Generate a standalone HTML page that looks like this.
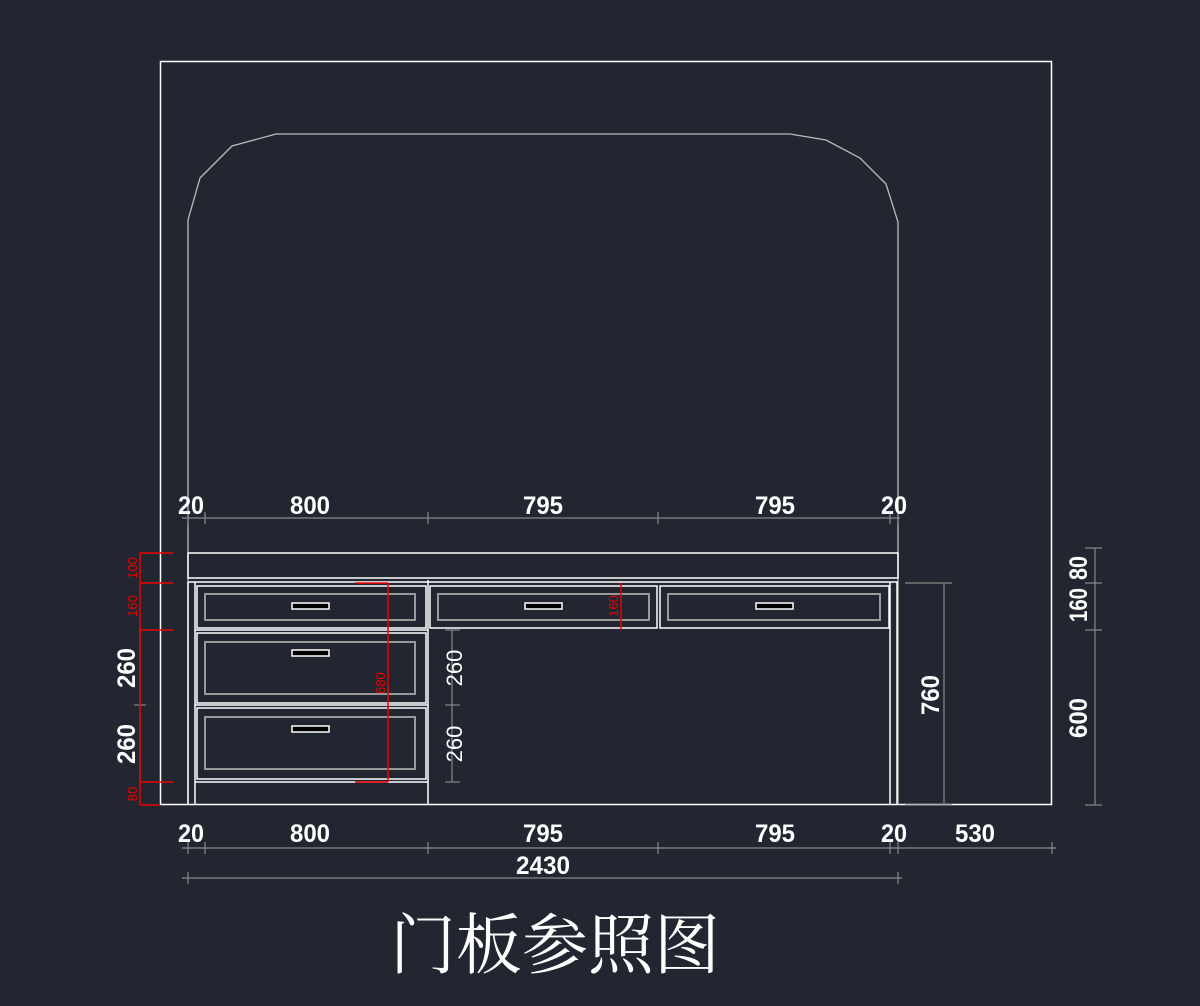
<!DOCTYPE html><html><head><style>body{margin:0;background:#212630}svg{display:block}</style></head><body>
<svg width="1200" height="1006" viewBox="0 0 1200 1006" xmlns="http://www.w3.org/2000/svg" font-family="'Liberation Sans', 'Noto Sans CJK SC', sans-serif">
<rect width="1200" height="1006" fill="#212630"/>
<rect x="160.5" y="61.5" width="891" height="743" fill="none" stroke="#fff" stroke-width="1.5"/>
<polyline points="188,805 188,220 200,178 232,146 276,134 790,134 826,140 860,158 886,184 898,222 898,805" fill="none" stroke="#bbb" stroke-width="1.3"/>
<g stroke="#fff" stroke-width="1.5" fill="none">
<rect x="188" y="553" width="710" height="25"/>
<line x1="188" y1="582" x2="898" y2="582"/>
<line x1="188" y1="582" x2="188" y2="805"/><line x1="195" y1="582" x2="195" y2="805"/>
<line x1="890" y1="582" x2="890" y2="805"/><line x1="897" y1="582" x2="897" y2="805"/>
<line x1="428" y1="580" x2="428" y2="805"/>
<line x1="195" y1="782" x2="428" y2="782"/>
<rect x="197" y="586" width="229" height="42"/><rect x="430" y="586" width="227" height="42"/><rect x="660" y="586" width="229" height="42"/>
<rect x="197" y="633" width="229" height="70"/><rect x="197" y="708" width="229" height="71"/>
<line x1="195" y1="630" x2="428" y2="630"/><line x1="195" y1="705" x2="428" y2="705"/>
</g>
<g stroke="#999" stroke-width="2" fill="none">
<rect x="205" y="594" width="210" height="26"/><rect x="438" y="594" width="211" height="26"/><rect x="668" y="594" width="212" height="26"/>
<rect x="205" y="642" width="210" height="52"/><rect x="205" y="717" width="210" height="52"/>
</g>
<g fill="#000" stroke="#fff" stroke-width="1.5">
<rect x="292" y="603" width="37" height="6"/><rect x="525" y="603" width="37" height="6"/><rect x="756" y="603" width="37" height="6"/>
<rect x="292" y="650" width="37" height="6"/><rect x="292" y="726" width="37" height="6"/>
</g>
<g stroke="#888" stroke-width="1.2" fill="none">
<line x1="182" y1="518" x2="900" y2="518"/>
<line x1="182" y1="848" x2="1056" y2="848"/>
<line x1="182" y1="878" x2="902" y2="878"/>
<line x1="944" y1="583" x2="944" y2="805"/><line x1="905" y1="583" x2="952" y2="583"/><line x1="905" y1="805" x2="952" y2="805"/>
<line x1="1095" y1="548" x2="1095" y2="805"/><line x1="1085" y1="805" x2="1102" y2="805"/><line x1="1085" y1="548" x2="1102" y2="548"/><line x1="1085" y1="583" x2="1102" y2="583"/><line x1="1085" y1="630" x2="1102" y2="630"/>
<line x1="140" y1="630" x2="140" y2="782"/>
<line x1="452" y1="630" x2="452" y2="782"/><line x1="445" y1="630" x2="460" y2="630"/><line x1="445" y1="705" x2="460" y2="705"/><line x1="445" y1="782" x2="460" y2="782"/>
<line x1="134" y1="705" x2="146" y2="705"/>
<path d="M188 512v12M205 512v12M428 512v12M658 512v12M890 512v12M898 512v12M188 842v12M205 842v12M428 842v12M658 842v12M890 842v12M898 842v12M1052 842v12M188 872v12M898 872v12"/>
</g>
<g stroke="#e00" stroke-width="1.5" fill="none">
<line x1="140" y1="553" x2="140" y2="805"/>
<path d="M140 553h33M140 583h33M140 630h33M140 782h33M140 805h20"/>
<line x1="388" y1="583" x2="388" y2="782"/><path d="M355 583h33M355 782h33"/>
<line x1="621" y1="583" x2="621" y2="630"/>
</g>
<g fill="#fff" font-size="26" font-weight="bold" text-anchor="middle" transform="scale(0.85,1)">
</g>
<g fill="#fff" font-size="25" text-anchor="middle" style="font-family:'Liberation Sans Narrow','Liberation Sans',sans-serif;font-weight:bold">
<text x="191" y="514" textLength="26" lengthAdjust="spacingAndGlyphs">20</text>
<text x="310" y="514" textLength="40" lengthAdjust="spacingAndGlyphs">800</text>
<text x="543" y="514" textLength="40" lengthAdjust="spacingAndGlyphs">795</text>
<text x="775" y="514" textLength="40" lengthAdjust="spacingAndGlyphs">795</text>
<text x="894" y="514" textLength="26" lengthAdjust="spacingAndGlyphs">20</text>
<text x="191" y="842" textLength="26" lengthAdjust="spacingAndGlyphs">20</text>
<text x="310" y="842" textLength="40" lengthAdjust="spacingAndGlyphs">800</text>
<text x="543" y="842" textLength="40" lengthAdjust="spacingAndGlyphs">795</text>
<text x="775" y="842" textLength="40" lengthAdjust="spacingAndGlyphs">795</text>
<text x="894" y="842" textLength="26" lengthAdjust="spacingAndGlyphs">20</text>
<text x="975" y="842" textLength="40" lengthAdjust="spacingAndGlyphs">530</text>
<text x="543" y="874" textLength="54" lengthAdjust="spacingAndGlyphs">2430</text>
<text transform="translate(135,668) rotate(-90)" textLength="40" lengthAdjust="spacingAndGlyphs">260</text>
<text transform="translate(135,744) rotate(-90)" textLength="40" lengthAdjust="spacingAndGlyphs">260</text>
<text transform="translate(939,695) rotate(-90)" textLength="40" lengthAdjust="spacingAndGlyphs">760</text>
<text transform="translate(1087,718) rotate(-90)" textLength="40" lengthAdjust="spacingAndGlyphs">600</text>
<text transform="translate(1087,605) rotate(-90)" textLength="34" lengthAdjust="spacingAndGlyphs">160</text>
<text transform="translate(1087,568) rotate(-90)" textLength="24" lengthAdjust="spacingAndGlyphs">80</text>
</g>
<g fill="#fff" font-size="22" text-anchor="middle">
<text transform="translate(462,668) rotate(-90)">260</text>
<text transform="translate(462,744) rotate(-90)">260</text>
</g>
<g fill="#e00" font-size="13" text-anchor="middle">
<text transform="translate(137,568) rotate(-90)">100</text>
<text transform="translate(137,606) rotate(-90)">160</text>
<text transform="translate(137,794) rotate(-90)">80</text>
<text transform="translate(385,683) rotate(-90)">680</text>
<text transform="translate(618,606) rotate(-90)">160</text>
</g>
<text x="555" y="968" fill="#fff" font-size="66" text-anchor="middle" style="font-family:'Noto Serif CJK SC',serif">门板参照图</text>
</svg></body></html>
